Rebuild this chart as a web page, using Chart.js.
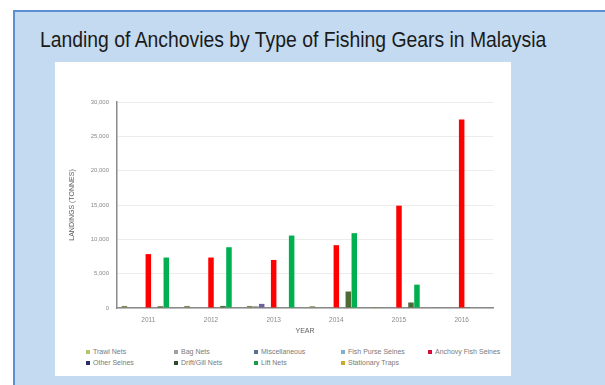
<!DOCTYPE html>
<html>
<head>
<meta charset="utf-8">
<script src="https://cdn.jsdelivr.net/npm/chart.js@4.4.0/dist/chart.umd.min.js"></script>
<style>
  html, body { margin: 0; padding: 0; background: #fff; }
  body { width: 605px; height: 385px; position: relative; overflow: hidden; font-family: "Liberation Sans", Arial, sans-serif; }
  .slide {
    position: absolute; left: 13px; top: 10px; width: 600px; height: 380px;
    background: #c4daf0; border-left: 2px solid #5b8fd2; border-top: 2px solid #5b8fd2;
    box-sizing: border-box;
  }
  .slide h1 {
    position: absolute; left: 25px; top: 15px; margin: 0;
    font-family: "Liberation Sans", Arial, sans-serif;
    font-weight: normal; font-size: 22.5px; color: #1a1a1a; white-space: nowrap;
    transform: scaleX(0.86); transform-origin: left top;
  }
  .panel {
    position: absolute; left: 55px; top: 62px; width: 456px; height: 314px; background: #fff;
  }
  #chartWrap { position: absolute; left: 0; top: 0; width: 456px; height: 285px; }
  #legend {
    position: absolute; left: 31px; top: 285px; width: 425px;
    display: grid; grid-template-columns: 88px 80px 87px 87px 80px; row-gap: 2px;
    font-size: 7px; color: #7a7a7a; line-height: 9px;
  }
  #legend span.sw { display: inline-block; width: 4px; height: 4px; margin-right: 3px; vertical-align: 0px; }
</style>
</head>
<body>
<div class="slide">
  <h1>Landing of Anchovies by Type of Fishing Gears in Malaysia</h1>
</div>
<div class="panel">
  <div id="chartWrap"><canvas id="chart"></canvas></div>
  <div id="legend"></div>
</div>
<script>
// Landings by gear type, tonnes
const years = ['2011', '2012', '2013', '2014', '2015', '2016'];

const trawlNets = [300, 300, 300, 250, 150, 50];
const bagNets = [0, 0, 250, 0, 0, 0];
const miscellaneous = [0, 0, 600, 0, 0, 0];
const fishPurseSeines = [0, 0, 0, 0, 0, 0];
const anchovyFishSeines = [7850, 7350, 7000, 9150, 14900, 27450];
const otherSeines = [0, 0, 0, 0, 0, 100];
const driftGillNets = [250, 300, 0, 2400, 800, 0];
const liftNets = [7350, 8850, 10550, 10900, 3400, 0];
const stationaryTraps = [0, 0, 0, 0, 100, 0];

const yTicks = [0, 5000, 10000, 15000, 20000, 25000, 30000];

const series = [
  { label: 'Trawl Nets', data: trawlNets, color: '#7d8a55', swatch: '#b5c46a' },
  { label: 'Bag Nets', data: bagNets, color: '#8c8c8c', swatch: '#a0a0a0' },
  { label: 'Miscellaneous', data: miscellaneous, color: '#6f5f9a', swatch: '#5a6f8f' },
  { label: 'Fish Purse Seines', data: fishPurseSeines, color: '#7fb0d0', swatch: '#7fb0d0' },
  { label: 'Anchovy Fish Seines', data: anchovyFishSeines, color: '#ff0000', swatch: '#d0103a' },
  { label: 'Other Seines', data: otherSeines, color: '#2a2f6a', swatch: '#2a2f6a' },
  { label: 'Drift/Gill Nets', data: driftGillNets, color: '#4f6b35', swatch: '#2f4a2a' },
  { label: 'Lift Nets', data: liftNets, color: '#00b050', swatch: '#1a9a4a' },
  { label: 'Stationary Traps', data: stationaryTraps, color: '#b89a30', swatch: '#c8a830' }
];

const axisFont = { size: 6, family: 'Liberation Sans' };

const ctx = document.getElementById('chart').getContext('2d');
new Chart(ctx, {
  type: 'bar',
  data: {
    labels: years,
    datasets: series.map(s => ({
      label: s.label,
      data: s.data,
      backgroundColor: s.color,
      categoryPercentage: 0.86,
      barPercentage: 0.92
    }))
  },
  options: {
    responsive: true,
    maintainAspectRatio: false,
    animation: false,
    layout: { padding: { left: 0, top: 40, right: 18, bottom: 0 } },
    plugins: {
      legend: { display: false },
      tooltip: { enabled: false }
    },
    scales: {
      x: {
        grid: { display: false, drawTicks: false },
        border: { color: '#8a8a8a', width: 1.5 },
        ticks: { color: '#8a8a8a', font: { size: 6.5, family: 'Liberation Sans' }, padding: 8 },
        title: { display: true, text: 'YEAR', color: '#606060', font: { size: 7, family: 'Liberation Sans' }, padding: { top: 0, bottom: 12 } },
        afterFit: scale => { scale.height = 39; }
      },
      y: {
        min: 0,
        max: 30000,
        afterBuildTicks: scale => { scale.ticks = yTicks.map(v => ({ value: v })); },
        grid: { color: '#ececec', drawTicks: false },
        border: { color: '#8a8a8a', width: 1.5 },
        ticks: {
          color: '#8a8a8a',
          font: axisFont,
          padding: 8,
          callback: v => v.toLocaleString('en-US')
        },
        title: { display: true, text: 'LANDINGS (TONNES)', color: '#606060', font: { size: 7, family: 'Liberation Sans' }, padding: { top: 13, bottom: 0 } },
        afterFit: scale => { scale.width = 62; }
      }
    }
  }
});

// Two-row legend under the plot
const legend = document.getElementById('legend');
series.forEach(s => {
  const item = document.createElement('div');
  const sw = document.createElement('span');
  sw.className = 'sw';
  sw.style.background = s.swatch;
  item.appendChild(sw);
  item.appendChild(document.createTextNode(s.label));
  legend.appendChild(item);
});
</script>
</body>
</html>
